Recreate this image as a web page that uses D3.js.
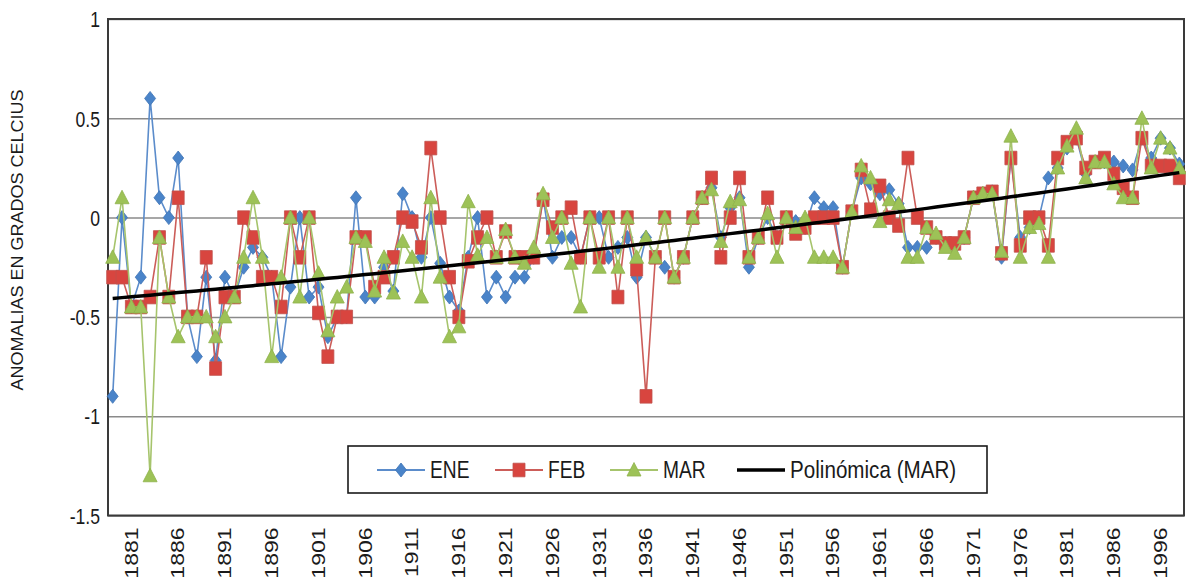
<!DOCTYPE html>
<html>
<head>
<meta charset="utf-8">
<script src="https://cdn.jsdelivr.net/npm/d3@7"></script>
<style>
  body { margin: 0; background: #fff; }
  svg text { font-family: "Liberation Sans", Arial, sans-serif; fill: #1a1a1a; }
</style>
</head>
<body>
<div id="container"></div>
<script>
// categories (1991-1995 are not in the source table)
const years = [
  1879,1880,1881,1882,1883,1884,1885,1886,1887,1888,
  1889,1890,1891,1892,1893,1894,1895,1896,1897,1898,
  1899,1900,1901,1902,1903,1904,1905,1906,1907,1908,
  1909,1910,1911,1912,1913,1914,1915,1916,1917,1918,
  1919,1920,1921,1922,1923,1924,1925,1926,1927,1928,
  1929,1930,1931,1932,1933,1934,1935,1936,1937,1938,
  1939,1940,1941,1942,1943,1944,1945,1946,1947,1948,
  1949,1950,1951,1952,1953,1954,1955,1956,1957,1958,
  1959,1960,1961,1962,1963,1964,1965,1966,1967,1968,
  1969,1970,1971,1972,1973,1974,1975,1976,1977,1978,
  1979,1980,1981,1982,1983,1984,1985,1986,1987,1988,
  1989,1990,1996,1997,1998
];

const ene = [
  -0.9, 0, -0.45, -0.3, 0.6, 0.1, 0, 0.3, -0.5, -0.7,
  -0.3, -0.72, -0.3, -0.4, -0.25, -0.15, -0.2, -0.3, -0.7, -0.35,
  0, -0.4, -0.35, -0.6, -0.5, -0.5, 0.1, -0.4, -0.4, -0.25,
  -0.37, 0.12, 0, -0.2, 0, -0.23, -0.4, -0.47, -0.2, 0,
  -0.4, -0.3, -0.4, -0.3, -0.3, -0.2, 0.1, -0.2, -0.1, -0.1,
  -0.2, 0, 0, -0.2, -0.15, -0.1, -0.3, -0.1, -0.2, -0.25,
  -0.3, -0.2, 0, 0.1, 0.15, -0.1, 0.05, 0.1, -0.25, -0.1,
  0, -0.1, 0, -0.02, -0.05, 0.1, 0.05, 0.05, -0.25, 0.03,
  0.2, 0.17, 0.12, 0.14, 0.07, -0.15, -0.15, -0.15, -0.1, -0.13,
  -0.15, -0.1, 0.1, 0.12, 0.13, -0.2, 0.3, -0.1, -0.05, 0,
  0.2, 0.25, 0.35, 0.4, 0.22, 0.28, 0.28, 0.28, 0.26, 0.24,
  0.4, 0.3, 0.4, 0.35, 0.27
];

const feb = [
  -0.3, -0.3, -0.45, -0.45, -0.4, -0.1, -0.4, 0.1, -0.5, -0.5,
  -0.2, -0.76, -0.4, -0.4, 0, -0.1, -0.3, -0.3, -0.45, 0,
  -0.2, 0, -0.48, -0.7, -0.5, -0.5, -0.1, -0.1, -0.35, -0.3,
  -0.2, 0, -0.02, -0.15, 0.35, 0, -0.3, -0.5, -0.22, -0.1,
  0, -0.2, -0.07, -0.2, -0.2, -0.2, 0.09, -0.05, 0, 0.05,
  -0.2, 0, -0.2, 0, -0.4, 0, -0.26, -0.9, -0.2, 0,
  -0.3, -0.2, 0, 0.1, 0.2, -0.2, 0, 0.2, -0.2, -0.1,
  0.1, -0.1, 0, -0.08, -0.05, 0, 0, 0, -0.25, 0.03,
  0.24, 0.04, 0.16, 0, -0.04, 0.3, 0, -0.05, -0.1, -0.13,
  -0.13, -0.1, 0.1, 0.12, 0.13, -0.18, 0.3, -0.14, 0, 0,
  -0.14, 0.3, 0.38, 0.4, 0.25, 0.28, 0.3, 0.22, 0.15, 0.1,
  0.4, 0.26, 0.26, 0.26, 0.2
];

const mar = [
  -0.2, 0.1, -0.45, -0.45, -1.3, -0.1, -0.4, -0.6, -0.5, -0.5,
  -0.5, -0.6, -0.5, -0.4, -0.2, 0.1, -0.2, -0.7, -0.3, 0,
  -0.4, 0, -0.28, -0.57, -0.4, -0.35, -0.1, -0.12, -0.37, -0.2,
  -0.38, -0.12, -0.2, -0.4, 0.1, -0.3, -0.6, -0.55, 0.08, -0.19,
  -0.1, -0.2, -0.06, -0.2, -0.23, -0.15, 0.12, -0.1, 0, -0.23,
  -0.45, 0, -0.25, 0, -0.25, 0, -0.2, -0.1, -0.2, 0,
  -0.3, -0.2, 0, 0.1, 0.14, -0.12, 0.08, 0.09, -0.2, -0.1,
  0.02, -0.2, 0, -0.05, 0, -0.2, -0.2, -0.2, -0.25, 0.03,
  0.26, 0.2, -0.02, 0.09, 0.07, -0.2, -0.2, -0.05, -0.08, -0.15,
  -0.18, -0.1, 0.1, 0.12, 0.12, -0.17, 0.41, -0.2, -0.05, -0.03,
  -0.2, 0.25, 0.36, 0.45, 0.2, 0.28, 0.28, 0.17, 0.1, 0.1,
  0.5, 0.25, 0.4, 0.35, 0.25
];

const yTicks = [1, 0.5, 0, -0.5, -1, -1.5];
const seriesNames = ["ENE", "FEB", "MAR"];
const trendName = "Polinómica (MAR)";
const yTitle = "ANOMALIAS EN GRADOS CELCIUS";

const width = 1186, height = 586;
const plot = { left: 108, right: 1184, top: 19, bottom: 515.5 };

const svg = d3.select("#container")
  .append("svg")
  .attr("width", width)
  .attr("height", height);

const x = d3.scaleBand()
  .domain(years.map((d, i) => i))
  .range([plot.left, plot.right]);
const cx = i => x(i) + x.bandwidth() / 2;

const y = d3.scaleLinear()
  .domain([-1.5, 1])
  .range([plot.bottom, plot.top]);

// grid
svg.append("g")
  .attr("transform", `translate(${plot.left},0)`)
  .call(d3.axisLeft(y).tickValues(yTicks).tickSize(-(plot.right - plot.left)).tickFormat(""))
  .call(g => g.select(".domain").remove())
  .call(g => g.selectAll("line").attr("stroke", "#8a8a8a").attr("stroke-width", 1.5));

svg.append("rect")
  .attr("x", plot.left).attr("y", plot.top)
  .attr("width", plot.right - plot.left).attr("height", plot.bottom - plot.top)
  .attr("fill", "none").attr("stroke", "#3a3a3a").attr("stroke-width", 2);

// y axis labels
svg.append("g")
  .attr("transform", `translate(${plot.left},0)`)
  .call(d3.axisLeft(y).tickValues(yTicks).tickSize(0).tickFormat(d => String(d)))
  .call(g => g.select(".domain").remove())
  .call(g => g.selectAll("text")
    .attr("x", 0).attr("dy", "0.35em")
    .attr("font-size", 22)
    .attr("transform", "translate(-8,0) scale(0.8,1)")
    .style("font-family", "'Liberation Sans', Arial, sans-serif"));

// x axis labels, every fifth category
svg.append("g")
  .attr("transform", `translate(0,${plot.bottom})`)
  .call(d3.axisBottom(x).tickValues(x.domain().filter(i => i % 5 === 2))
    .tickSize(0).tickFormat(i => years[i]))
  .call(g => g.select(".domain").remove())
  .call(g => g.selectAll("text")
    .attr("x", 0).attr("y", 0).attr("dy", "0.35em")
    .attr("text-anchor", "end")
    .attr("font-size", 23)
    .attr("transform", "translate(0,12) rotate(-90) scale(1,0.78)")
    .style("font-family", "'Liberation Sans', Arial, sans-serif"));

svg.append("text")
  .attr("transform", "translate(17,240) rotate(-90) scale(1,0.95)")
  .attr("text-anchor", "middle")
  .attr("dy", "0.35em")
  .attr("font-size", 18)
  .text(yTitle);

// marker shapes
const shapes = {
  diamond: "M0,-7L5.5,0L0,7L-5.5,0Z",
  square: "M-6,-6.8H6V6.8H-6Z",
  triangle: "M0,-7.5L7,6H-7Z"
};
const styles = [
  { line: "#5b8ccb", fill: "#4a84c9", stroke: "#3f74b5", shape: "diamond" },
  { line: "#cc5d59", fill: "#d8453f", stroke: "#c0504d", shape: "square" },
  { line: "#a6c46c", fill: "#9dc257", stroke: "#8fb34c", shape: "triangle" }
];

const lineGen = d3.line().x((d, i) => cx(i)).y(d => y(d));

[ene, feb, mar].forEach((vals, s) => {
  const st = styles[s];
  const g = svg.append("g");
  g.append("path")
    .attr("d", lineGen(vals))
    .attr("fill", "none")
    .attr("stroke", st.line)
    .attr("stroke-width", 1.6);
  g.selectAll("path.m")
    .data(vals)
    .join("path")
    .attr("class", "m")
    .attr("d", shapes[st.shape])
    .attr("transform", (d, i) => `translate(${cx(i)},${y(d)})`)
    .attr("fill", st.fill)
    .attr("stroke", st.stroke)
    .attr("stroke-width", 0.8);
});

// polynomial trendline (order 2) of MAR, least squares
function polyFit(vals, order) {
  const m = order + 1;
  const A = Array.from({ length: m }, () => new Array(m + 1).fill(0));
  vals.forEach((v, i) => {
    const t = i + 1;
    for (let r = 0; r < m; r++) {
      for (let c = 0; c < m; c++) A[r][c] += Math.pow(t, r + c);
      A[r][m] += v * Math.pow(t, r);
    }
  });
  for (let p = 0; p < m; p++) {
    for (let r = p + 1; r < m; r++) {
      const f = A[r][p] / A[p][p];
      for (let c = p; c <= m; c++) A[r][c] -= f * A[p][c];
    }
  }
  const coef = new Array(m).fill(0);
  for (let r = m - 1; r >= 0; r--) {
    let s = A[r][m];
    for (let c = r + 1; c < m; c++) s -= A[r][c] * coef[c];
    coef[r] = s / A[r][r];
  }
  return t => coef.reduce((acc, c, k) => acc + c * Math.pow(t, k), 0);
}
const trend = polyFit(mar, 2);
svg.append("path")
  .attr("d", d3.line().x(i => cx(i)).y(i => y(trend(i + 1)))(x.domain()))
  .attr("fill", "none")
  .attr("stroke", "#000")
  .attr("stroke-width", 3.5);

// legend
const legend = svg.append("g");
legend.append("rect")
  .attr("x", 348).attr("y", 446).attr("width", 639).attr("height", 47)
  .attr("fill", "#fff").attr("stroke", "#1a1a1a").attr("stroke-width", 1.6);

const legendX = [377, 495, 610, 737];
const legendY = 470;
seriesNames.forEach((name, s) => {
  const st = styles[s];
  const x0 = legendX[s];
  legend.append("line")
    .attr("x1", x0).attr("x2", x0 + 48).attr("y1", legendY).attr("y2", legendY)
    .attr("stroke", st.line).attr("stroke-width", 1.8);
  legend.append("path")
    .attr("d", shapes[st.shape])
    .attr("transform", `translate(${x0 + 24},${legendY})`)
    .attr("fill", st.fill).attr("stroke", st.stroke).attr("stroke-width", 0.8);
  legend.append("text")
    .attr("transform", `translate(${x0 + 53},${legendY}) scale(0.8,1)`)
    .attr("dy", "0.35em")
    .attr("font-size", 24)
    .text(name);
});
legend.append("line")
  .attr("x1", legendX[3]).attr("x2", legendX[3] + 48).attr("y1", legendY).attr("y2", legendY)
  .attr("stroke", "#000").attr("stroke-width", 3.5);
legend.append("text")
  .attr("transform", `translate(${legendX[3] + 53},${legendY}) scale(0.86,1)`)
  .attr("dy", "0.35em")
  .attr("font-size", 24)
  .text(trendName);
</script>
</body>
</html>
